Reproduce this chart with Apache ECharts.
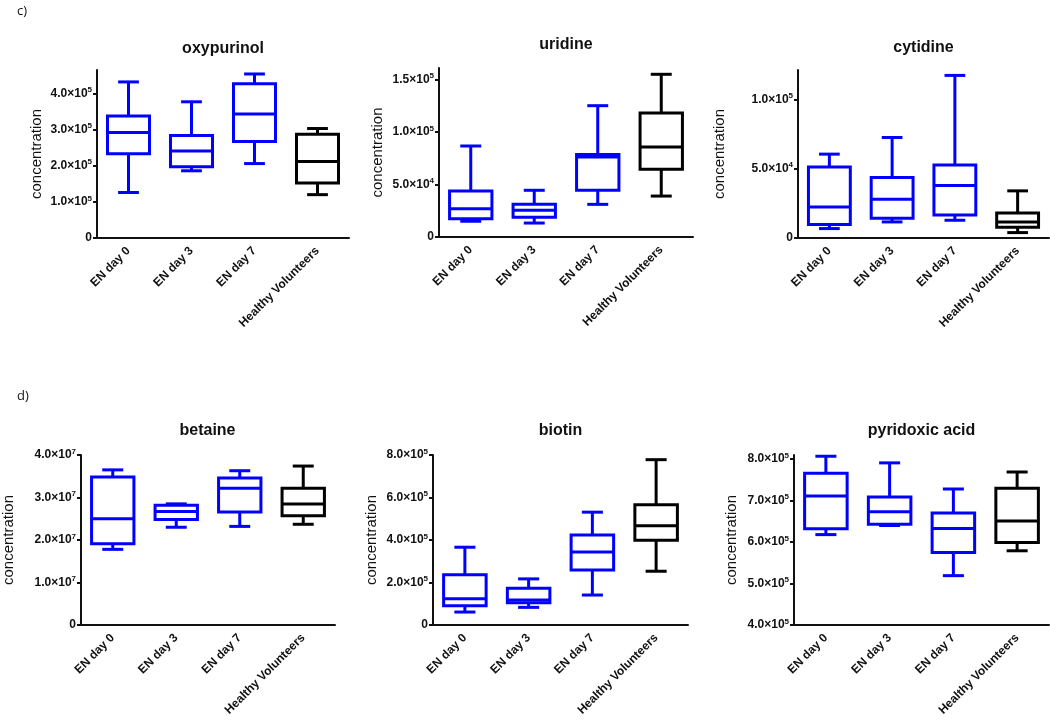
<!DOCTYPE html>
<html>
<head>
<meta charset="utf-8">
<script src="https://cdn.jsdelivr.net/npm/echarts@6/dist/echarts.min.js"></script>
<style>
html,body{margin:0;padding:0;background:#fff;}
#c{width:1050px;height:720px;}
</style>
</head>
<body>
<div id="c"></div>
<script>
// ---- data ----
const categories = ['EN day 0', 'EN day 3', 'EN day 7', 'Healthy Volunteers'];
const groupColors = ['#0000ff', '#0000ff', '#0000ff', '#000000'];
const panelTitles = ['oxypurinol', 'uridine', 'cytidine', 'betaine', 'biotin', 'pyridoxic acid'];
// each row: [min, Q1, median, Q3, max]
const oxypurinol = [[1.26e5, 2.33e5, 2.92e5, 3.38e5, 4.32e5], [1.86e5, 1.97e5, 2.41e5, 2.84e5, 3.77e5], [2.06e5, 2.67e5, 3.43e5, 4.27e5, 4.54e5], [1.20e5, 1.52e5, 2.12e5, 2.87e5, 3.03e5]];
const uridine = [[1.50e4, 1.75e4, 2.70e4, 4.38e4, 8.67e4], [1.33e4, 1.88e4, 2.54e4, 3.11e4, 4.45e4], [3.11e4, 4.45e4, 7.62e4, 7.85e4, 1.251e5], [3.90e4, 6.45e4, 8.57e4, 1.181e5, 1.55e5]];
const cytidine = [[6.8e3, 9.7e3, 2.24e4, 5.13e4, 6.05e4], [1.16e4, 1.42e4, 2.80e4, 4.36e4, 7.25e4], [1.28e4, 1.66e4, 3.79e4, 5.27e4, 1.173e5], [3.9e3, 7.7e3, 1.16e4, 1.81e4, 3.40e4]];
const betaine = [[1.78e7, 1.91e7, 2.50e7, 3.48e7, 3.65e7], [2.30e7, 2.48e7, 2.67e7, 2.82e7, 2.85e7], [2.32e7, 2.66e7, 3.22e7, 3.46e7, 3.63e7], [2.37e7, 2.57e7, 2.85e7, 3.22e7, 3.74e7]];
const biotin = [[0.61e5, 0.91e5, 1.23e5, 2.36e5, 3.66e5], [0.83e5, 1.05e5, 1.18e5, 1.73e5, 2.17e5], [1.41e5, 2.59e5, 3.43e5, 4.23e5, 5.31e5], [2.53e5, 3.99e5, 4.67e5, 5.66e5, 7.78e5]];
const pyridoxicAcid = [[6.18e5, 6.32e5, 7.11e5, 7.66e5, 8.07e5], [6.40e5, 6.43e5, 6.73e5, 7.09e5, 7.91e5], [5.19e5, 5.75e5, 6.33e5, 6.70e5, 7.28e5], [5.79e5, 5.99e5, 6.51e5, 7.30e5, 7.69e5]];
// tick labels
const ticksOxy = [0, 1e5, 2e5, 3e5, 4e5];
const ticksUri = [0, 5e4, 1e5, 1.5e5];
const ticksCyt = [0, 5e4, 1e5];
const ticksBet = [0, 1e7, 2e7, 3e7, 4e7];
const ticksBio = [0, 2e5, 4e5, 6e5, 8e5];
const ticksPyr = [4e5, 5e5, 6e5, 7e5, 8e5];
const axisRanges = [[0, 4.65e5], [0, 1.61e5], [0, 1.212e5], [0, 4e7], [0, 8e5], [4e5, 8.1e5]];

const panelData = [oxypurinol, uridine, cytidine, betaine, biotin, pyridoxicAcid];
const panelTicks = [ticksOxy, ticksUri, ticksCyt, ticksBet, ticksBio, ticksPyr];

// ---- layout ----
const grids = [
  {left: 97, top: 70, width: 252, height: 168},
  {left: 439, top: 68, width: 254, height: 169},
  {left: 798, top: 70, width: 251, height: 168},
  {left: 80, top: 455, width: 255, height: 170},
  {left: 433, top: 455, width: 255, height: 170},
  {left: 794, top: 455, width: 255, height: 170}
];
const titleTops = [41, 37, 40, 423, 423, 423];
const nameGaps = [53, 54, 71, 65, 54, 55];
const FONT = '"Liberation Sans", Arial, sans-serif';

function sciLabel(v) {
  if (v === 0) return '{b|0}';
  const e = Math.floor(Math.log10(v) + 1e-9);
  const m = v / Math.pow(10, e);
  return '{b|' + m.toFixed(1) + '×10}{s|' + e + '}';
}

function renderBox(params, api) {
  const xi = api.value(0);
  const band = api.size([1, 0])[0];
  const bw = band * 0.667 / 2;
  const cw = band * 0.33 / 2;
  const pMin = api.coord([xi, api.value(1)]);
  const pQ1 = api.coord([xi, api.value(2)]);
  const pMed = api.coord([xi, api.value(3)]);
  const pQ3 = api.coord([xi, api.value(4)]);
  const pMax = api.coord([xi, api.value(5)]);
  const cx = pMed[0];
  const color = groupColors[params.dataIndex];
  const st = {stroke: color, lineWidth: 3, fill: null};
  const line = (x1, y1, x2, y2) => ({type: 'line', shape: {x1, y1, x2, y2}, style: st});
  return {
    type: 'group',
    children: [
      line(cx, pQ3[1], cx, pMax[1]),
      line(cx, pQ1[1], cx, pMin[1]),
      line(cx - cw, pMax[1], cx + cw, pMax[1]),
      line(cx - cw, pMin[1], cx + cw, pMin[1]),
      {type: 'rect', shape: {x: cx - bw, y: pQ3[1], width: 2 * bw, height: pQ1[1] - pQ3[1]}, style: {stroke: color, lineWidth: 3, fill: '#fff'}},
      line(cx - bw, pMed[1], cx + bw, pMed[1])
    ]
  };
}

const xAxes = [], yAxes = [], series = [], titles = [];
for (let i = 0; i < 6; i++) {
  const g = grids[i];
  titles.push({
    text: panelTitles[i], left: g.left + g.width / 2, top: titleTops[i], padding: 0, textAlign: 'center',
    textStyle: {fontFamily: FONT, fontSize: 16, fontWeight: 'bold', color: '#111'}
  });
  xAxes.push({
    type: 'category', gridIndex: i, data: categories, boundaryGap: true,
    axisLine: {lineStyle: {color: '#111', width: 2}},
    axisTick: {alignWithLabel: true, length: 5, lineStyle: {color: '#111', width: 2}},
    axisLabel: {rotate: 45, margin: 11, interval: 0, fontFamily: FONT, fontSize: 12, fontWeight: 'bold', color: '#111'},
    splitLine: {show: false}
  });
  const tk = panelTicks[i];
  yAxes.push({
    type: 'value', gridIndex: i, min: axisRanges[i][0], max: axisRanges[i][1],
    interval: tk[1] - tk[0],
    name: 'concentration', nameLocation: 'middle', nameGap: nameGaps[i],
    nameTextStyle: {fontFamily: FONT, fontSize: 15, color: '#111'},
    axisLine: {show: true, lineStyle: {color: '#111', width: 2}},
    axisTick: {show: true, length: 4, customValues: tk, lineStyle: {color: '#111', width: 2}},
    axisLabel: {
      customValues: tk, margin: 5, formatter: sciLabel,
      rich: {
        b: {fontFamily: FONT, fontSize: 12, fontWeight: 'bold', color: '#111'},
        s: {fontFamily: FONT, fontSize: 8, fontWeight: 'bold', color: '#111', padding: [0, 0, 7, 0]}
      }
    },
    splitLine: {show: false}
  });
  series.push({
    type: 'custom', xAxisIndex: i, yAxisIndex: i,
    renderItem: renderBox,
    encode: {x: 0, y: [1, 2, 3, 4, 5]},
    data: panelData[i].map((r, k) => [k].concat(r)),
    silent: true
  });
}
titles.push({text: 'c)', left: 17, top: 5, padding: 0, textStyle: {fontFamily: '"Open Sans", sans-serif', fontSize: 13, fontWeight: 'normal', color: '#111'}});
titles.push({text: 'd)', left: 17, top: 390, padding: 0, textStyle: {fontFamily: '"Open Sans", sans-serif', fontSize: 13, fontWeight: 'normal', color: '#111'}});

const chart = echarts.init(document.getElementById('c'));
chart.setOption({
  animation: false,
  backgroundColor: '#fff',
  title: titles,
  grid: grids,
  xAxis: xAxes,
  yAxis: yAxes,
  series: series
});
</script>
</body>
</html>
